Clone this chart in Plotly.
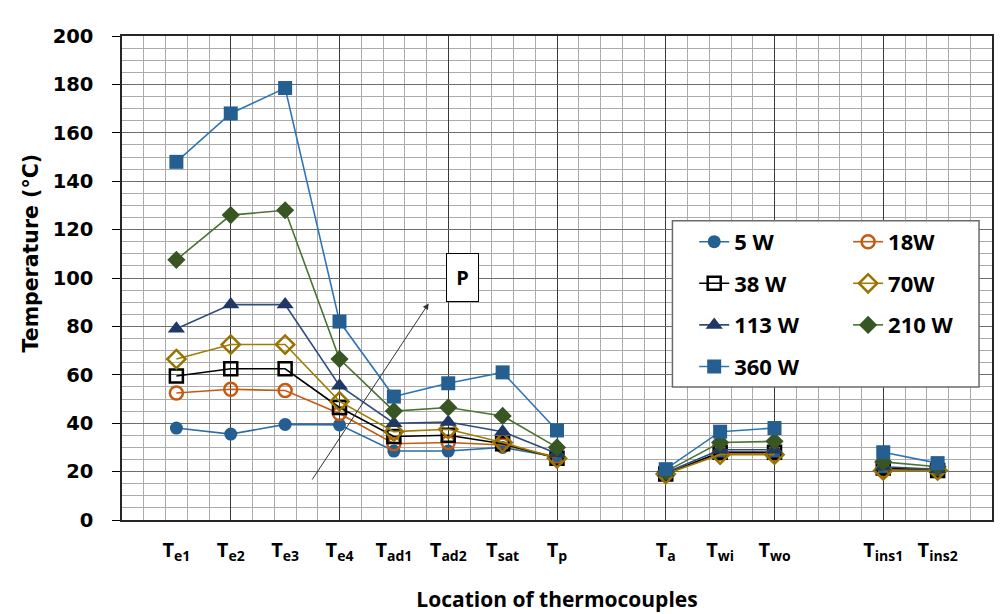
import plotly.graph_objects as go

# ---------------- data ----------------
X_POS = [1, 2, 3, 4, 5, 6, 7, 8, 10, 11, 12, 14, 15]
X_LABELS = ["T<sub>e1</sub>", "T<sub>e2</sub>", "T<sub>e3</sub>", "T<sub>e4</sub>",
            "T<sub>ad1</sub>", "T<sub>ad2</sub>", "T<sub>sat</sub>", "T<sub>p</sub>",
            "T<sub>a</sub>", "T<sub>wi</sub>", "T<sub>wo</sub>",
            "T<sub>ins1</sub>", "T<sub>ins2</sub>"]

W5 = [38, 35.5, 39.5, 39.3, 28.5, 28.5, 30, 26, 19, 28, 28, 21, 20.5]
W18 = [52.5, 54, 53.5, 44, 31.5, 32, 31, 26, 19, 27.5, 27.5, 21, 20.5]
W38 = [59.5, 62.5, 62.5, 46.5, 34.5, 35, 31.5, 25.5, 19, 28, 28, 21.5, 20.5]
W70 = [66.5, 72.5, 72.5, 49, 36.5, 37.5, 32, 25.5, 19, 27, 27, 20.5, 20.5]
W113 = [79, 89, 89, 55.5, 40, 40.5, 36.5, 27.5, 19.5, 29, 29, 22, 21]
W210 = [107.5, 126, 128, 66.5, 45, 46.5, 43, 30, 20, 32, 32.5, 24, 22]
W360 = [148, 168, 178.5, 82, 51, 56.5, 61, 37, 21, 36.5, 38, 28, 23.5]

Y_TICKS = [0, 20, 40, 60, 80, 100, 120, 140, 160, 180, 200]

# annotation positions (data units)
ARROW_TAIL = (3.48, 16.1)
ARROW_HEAD = (5.64, 89.5)
P_LABEL = (6.27, 100.1)


def with_gaps(xs, ys):
    """Break the line where thermocouple groups are not adjacent."""
    gx, gy = [], []
    for i, (x, y) in enumerate(zip(xs, ys)):
        if i > 0 and x - xs[i - 1] > 1:
            gx.append(None)
            gy.append(None)
        gx.append(x)
        gy.append(y)
    return gx, gy


# ---------------- figure ----------------
OS = "Open Sans"
DV = "DejaVu Sans"

series = [
    # name, values, symbol, marker color, line color, size, legend
    ("5 W", W5, "circle", "#255e91", "#2e6da4", 13, "legend"),
    ("18W", W18, "circle-open", "#c55a11", "#c55a11", 13, "legend2"),
    ("38 W", W38, "square-open", "#000000", "#000000", 13, "legend"),
    ("70W", W70, "diamond-open", "#997300", "#a07c00", 14, "legend2"),
    ("113 W", W113, "triangle-up", "#203864", "#2f4b7c", 15, "legend"),
    ("210 W", W210, "diamond", "#375623", "#4a7431", 14, "legend2"),
    ("360 W", W360, "square", "#255e91", "#2e75b6", 14, "legend"),
]

fig = go.Figure()
for name, vals, sym, mc, lc, sz, leg in series:
    is_open = sym.endswith("open")
    gx, gy = with_gaps(X_POS, vals)
    fig.add_trace(go.Scatter(
        x=gx, y=gy, mode="lines+markers", connectgaps=False,
        name=f"<span style='font-size:22px'>{name}</span>",
        legend=leg, legendgroup=name,
        line=dict(color=lc, width=1.6),
        marker=dict(symbol=sym, size=sz, color=mc,
                    line=dict(color=mc, width=2.5 if is_open else 0)),
    ))

# empty helper trace so that the label axis (x2) is created
fig.add_trace(go.Scatter(x=[], y=[], xaxis="x2", yaxis="y", showlegend=False,
                         hoverinfo="skip", mode="markers"))

legend_common = dict(
    orientation="v", bgcolor="rgba(0,0,0,0)", borderwidth=0,
    font=dict(family=OS, size=22, color="#000000", weight="bold"),
    tracegroupgap=10, xanchor="left", yanchor="top", traceorder="grouped",
)

fig.update_layout(
    width=1005, height=614,
    margin=dict(l=122, r=13, t=36, b=94, autoexpand=False),
    paper_bgcolor="white", plot_bgcolor="white",
    showlegend=True,
    legend=dict(x=0.6577, y=0.618, **legend_common),
    legend2=dict(x=0.8346, y=0.618, **legend_common),
    xaxis=dict(
        range=[0, 16], tick0=0, dtick=2, showgrid=True, gridcolor="#3a3a3a", gridwidth=1,
        minor=dict(tick0=0, dtick=0.4, showgrid=True, gridcolor="#ababab", gridwidth=1),
        showticklabels=False, ticks="", zeroline=False, automargin=False,
        showline=True, linecolor="#262626", linewidth=1.5, mirror=True,
    ),
    xaxis2=dict(
        overlaying="x", anchor="y", side="bottom", range=[0, 16], visible=True,
        tickmode="array", tickvals=X_POS, ticktext=X_LABELS, automargin=False,
        showgrid=False, zeroline=False, showline=False, ticks="",
        tickfont=dict(family=OS, size=20, color="#000000", weight="bold"),
        ticklabelstandoff=16,
        title=dict(text="Location of thermocouples", standoff=28,
                   font=dict(family=OS, size=21, color="#000000", weight="bold")),
    ),
    yaxis=dict(
        range=[0, 200], tickvals=Y_TICKS, automargin=False,
        showgrid=True, gridcolor="#6e6e6e", gridwidth=1.3,
        minor=dict(tick0=0, dtick=5, showgrid=True, gridcolor="#ababab", gridwidth=1),
        ticks="outside", ticklen=8, tickcolor="#000000", tickwidth=1.3,
        tickfont=dict(family=DV, size=19.5, color="#000000", weight="bold"),
        ticklabelstandoff=15, zeroline=False,
        showline=True, linecolor="#262626", linewidth=1.5, mirror=True,
    ),
    shapes=[dict(type="rect", xref="paper", yref="paper",
                 x0=0.6327, x1=0.9851, y0=0.2748, y1=0.6184,
                 line=dict(color="#6a6a6a", width=1.5), fillcolor="white", layer="above")],
    annotations=[
        dict(text="Temperature (°C)", xref="paper", yref="paper", x=-0.105, y=0.552,
             xanchor="center", yanchor="middle", textangle=-90, showarrow=False,
             font=dict(family=DV, size=20.5, color="#000000", weight="bold")),
        dict(text="", x=ARROW_HEAD[0], y=ARROW_HEAD[1], xref="x", yref="y",
             ax=ARROW_TAIL[0], ay=ARROW_TAIL[1], axref="x", ayref="y",
             showarrow=True, arrowhead=2, arrowsize=1.2, arrowwidth=1, arrowcolor="#333333"),
        dict(text="<b>P</b>", x=P_LABEL[0], y=P_LABEL[1], xref="x", yref="y",
             showarrow=False, width=31, height=47, borderpad=0,
             bordercolor="#000000", borderwidth=1, bgcolor="white",
             font=dict(family=OS, size=20, color="#000000")),
    ],
)

fig.write_html("out.html")
